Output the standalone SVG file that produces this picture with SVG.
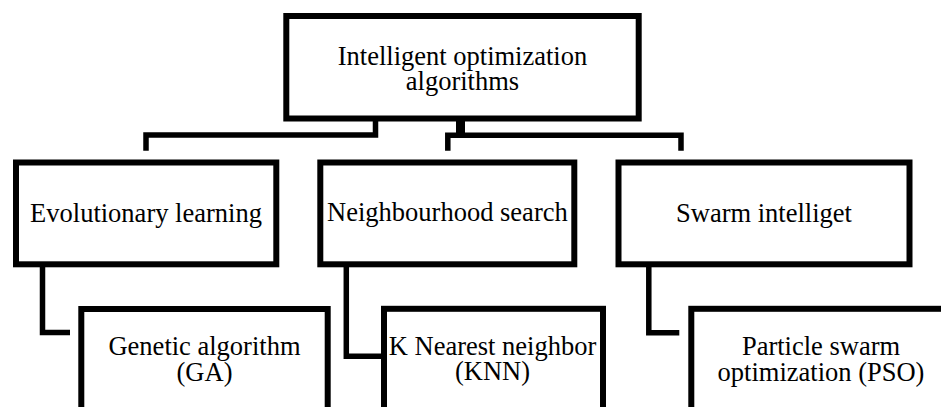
<svg xmlns="http://www.w3.org/2000/svg" width="941" height="407" viewBox="0 0 941 407">
  <style>
    .box { fill: #ffffff; stroke: #000000; stroke-width: 6; }
    .wire { fill: none; stroke: #000000; stroke-width: 5.5; stroke-linejoin: miter; stroke-linecap: butt; }
    text { font-size: 26.5px; fill: #000000; text-anchor: middle; }
  </style>
  <rect width="941" height="407" fill="#ffffff"/>

  <!-- connectors -->
  <g id="connectors">
    <path class="wire" d="M375.5,119 V135 H146 V150.7"/>
    <path class="wire" style="stroke-width:9" d="M460.5,119 V135"/>
    <path class="wire" d="M447.8,150.7 V135.3 H681 V150.7"/>
    <path class="wire" d="M42.5,265 V332.5 H70"/>
    <path class="wire" d="M346.3,265 V356.3 H381"/>
    <path class="wire" d="M648.8,265 V332.8 H679.3"/>
  </g>

  <g font-family="Liberation Serif, DejaVu Serif, serif">
    <!-- root -->
    <g id="root">
      <rect class="box" x="286.3" y="16" width="352.4" height="102.5"/>
      <text x="462.5" y="65">Intelligent optimization</text>
      <text x="462.5" y="89.5">algorithms</text>
    </g>

    <!-- categories -->
    <g id="evolutionary">
      <rect class="box" x="16" y="162.5" width="260.3" height="101.8"/>
      <text x="146" y="221.7">Evolutionary learning</text>
    </g>
    <g id="neighbourhood">
      <rect class="box" x="320.3" y="162.5" width="254" height="101.8"/>
      <text x="447.4" y="221.2">Neighbourhood search</text>
    </g>
    <g id="swarm">
      <rect class="box" x="618.5" y="162.5" width="291" height="101.8"/>
      <text x="764" y="221.7">Swarm intelliget</text>
    </g>

    <!-- methods -->
    <g id="ga">
      <rect class="box" x="81.3" y="309" width="246.4" height="130"/>
      <text x="204.5" y="355">Genetic algorithm</text>
      <text x="204.5" y="380.5">(GA)</text>
    </g>
    <g id="knn">
      <rect class="box" x="384" y="308.8" width="219" height="130"/>
      <text x="492.5" y="354.5">K Nearest neighbor</text>
      <text x="492.5" y="380">(KNN)</text>
    </g>
    <g id="pso">
      <rect class="box" x="691.3" y="308.8" width="300" height="130"/>
      <text x="821" y="355">Particle swarm</text>
      <text x="821" y="381">optimization (PSO)</text>
    </g>
  </g>
</svg>
